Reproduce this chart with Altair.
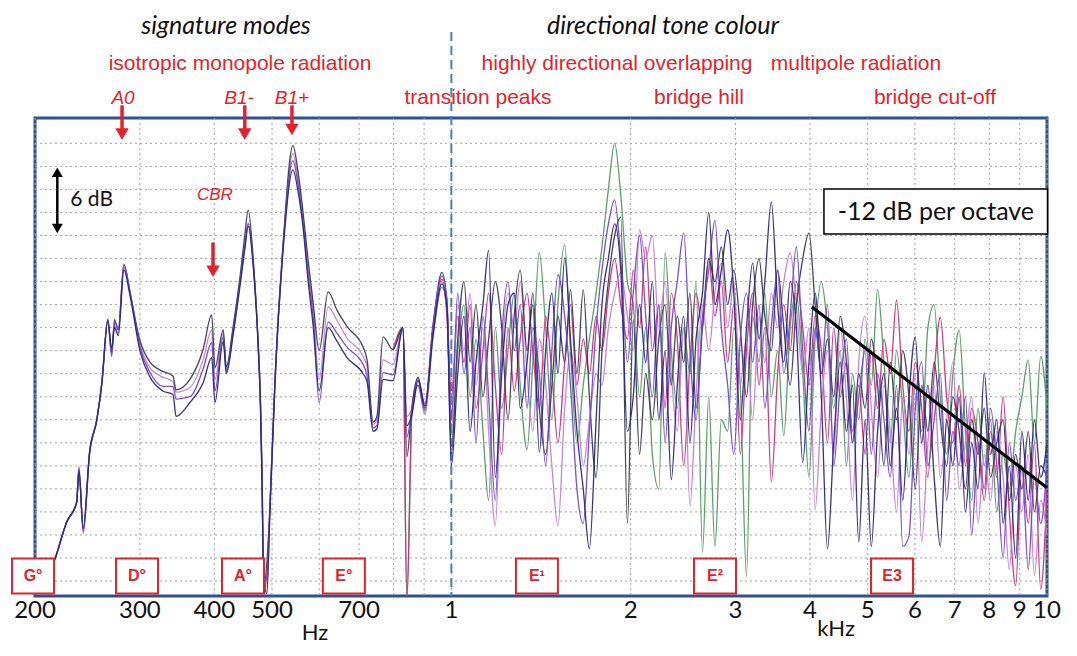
import altair as alt
import pandas as pd

# ---------------- data ----------------
SERIES = ["E", "F", "B", "A", "C", "D"]
SERIES_COLORS = ["#4f9d5d", "#cc2f7a", "#c47fd4", "#3a3a52", "#7447c9", "#28287e"]

# low-frequency part (Hz) - signature modes
LF_FREQ = [204, 216, 226, 235, 237, 241, 247, 254, 259, 265,
           269, 272, 276, 282, 289, 300, 312, 328, 341, 345,
           364, 383, 396, 401, 414, 419, 430, 442, 450, 456,
           465, 474, 478, 481, 484, 490, 496, 506, 522, 542,
           553, 564, 575, 586, 600, 621, 643, 668, 711, 722,
           739, 750, 768, 798, 829, 842, 859, 879, 903, 931,
           964, 983]
LF_A = [1.0, 3.9, 7.1, 8.8, 11.5, 6.5, 13.2, 16.0, 19.2, 24.7,
        21.8, 24.7, 23.8, 29.5, 27.0, 22.9, 21.0, 20.2, 19.8, 18.6,
        19.5, 22.1, 25.1, 20.5, 23.8, 20.6, 24.0, 28.5, 32.0, 34.2,
        29.9, 22.7, 18.0, 11.7, 1.5, 3.5, 8.5, 19.7, 31.4, 39.8,
        37.5, 33.9, 29.8, 26.2, 22.0, 27.1, 25.5, 24.1, 22.3, 21.2,
        15.8, 16.3, 23.2, 22.1, 24.0, 12.8, 17.2, 19.7, 17.0, 23.8,
        28.8, 26.2]
LF_B = [1.0, 3.9, 7.1, 8.9, 12.0, 6.1, 13.2, 16.0, 19.2, 24.5,
        22.0, 24.2, 23.5, 29.2, 26.8, 22.6, 20.5, 19.7, 19.3, 18.4,
        18.8, 21.2, 23.8, 19.5, 23.5, 20.4, 23.8, 28.2, 31.2, 33.1,
        29.5, 22.5, 17.8, 11.5, 3.0, 1.0, 8.3, 19.5, 31.0, 39.1,
        36.8, 33.4, 29.0, 25.8, 19.5, 25.8, 24.6, 23.1, 21.5, 20.6,
        15.6, 16.0, 21.2, 20.8, 24.0, 16.3, 17.0, 19.5, 16.5, 23.5,
        28.0, 25.5]
LF_C = [1.0, 3.9, 7.1, 8.8, 11.8, 6.3, 13.0, 16.0, 19.2, 24.7,
        21.5, 24.5, 23.9, 29.4, 27.0, 22.3, 20.1, 18.9, 18.9, 17.8,
        18.0, 20.4, 22.7, 18.5, 23.2, 20.2, 23.5, 28.0, 31.0, 33.0,
        29.6, 22.4, 17.5, 11.0, 1.2, 2.5, 8.6, 19.8, 31.2, 38.5,
        36.4, 33.0, 28.5, 25.0, 17.5, 24.5, 23.5, 22.3, 20.8, 19.8,
        15.3, 15.5, 20.1, 19.9, 23.8, 14.5, 16.8, 19.0, 16.8, 24.0,
        28.5, 26.5]
LF_D = [1.0, 3.9, 7.1, 8.9, 11.6, 6.6, 13.2, 16.0, 19.2, 24.6,
        22.2, 24.0, 23.3, 29.0, 26.7, 22.0, 19.7, 18.5, 18.2, 16.3,
        17.5, 19.2, 21.4, 17.5, 22.8, 20.0, 23.3, 27.7, 30.8, 32.8,
        29.3, 22.2, 17.3, 10.5, 2.5, 0.9, 8.0, 19.4, 30.8, 37.7,
        35.8, 32.6, 28.0, 24.2, 18.5, 24.0, 22.8, 21.4, 20.0, 19.3,
        15.0, 15.2, 19.5, 19.4, 24.0, 15.5, 16.5, 19.4, 17.2, 23.2,
        27.8, 25.8]
LF_TAIL_FREQ = [798, 829, 842, 859, 879, 903, 931, 964, 983]
LF_E = [22.1, 24.0, 0.3, 16.8, 19.0, 16.5, 23.0, 27.5, 26.0]
LF_F = [22.0, 23.9, 0.3, 17.0, 19.6, 17.4, 24.2, 28.2, 25.0]

# high-frequency part (Hz) - directional tone colour
HF_FREQ = [1000, 1025, 1050, 1075, 1100, 1130, 1155, 1185, 1215, 1245,
           1275, 1305, 1340, 1370, 1405, 1440, 1475, 1510, 1550, 1585,
           1625, 1665, 1705, 1750, 1790, 1835, 1880, 1925, 1975, 2020,
           2070, 2120, 2175, 2230, 2285, 2340, 2395, 2455, 2515, 2575,
           2640, 2705, 2770, 2840, 2910, 2980, 3055, 3130, 3205, 3285,
           3360, 3445, 3530, 3615, 3705, 3795, 3890, 3985, 4080, 4180,
           4280, 4385, 4495, 4605, 4715, 4830, 4950, 5070, 5195, 5325,
           5455, 5590, 5725, 5865, 6010, 6160, 6310, 6465, 6620, 6785,
           6950, 7120, 7295, 7475, 7660, 7845, 8040, 8235, 8440, 8645,
           8860, 9075, 9300, 9525, 9760, 10000]
HF_A = [13, 23, 28, 21, 26, 18, 23, 28, 24, 16,
        25, 29, 22, 27, 17, 13, 19, 25, 21, 27.3,
        20, 27.3, 18, 11, 22, 28, 32, 33.6, 7, 24.7,
        13, 20, 16, 23, 26, 19, 25, 21, 27, 17,
        24, 30, 28, 31, 26, 29, 24, 18, 26, 30,
        25, 22, 29, 24, 19, 26, 30, 32.2, 26, 20,
        23, 18, 25, 21, 14, 20, 17, 23, 19, 12,
        21, 16, 22, 18, 10, 19, 15, 21, 16, 12,
        18, 15, 10, 16, 13, 17, 11, 14, 16, 9,
        13, 10, 15, 8, 12, 11]
HF_B = [15, 26, 22, 27, 19, 24, 15, 6.8, 21, 27,
        24, 28, 20, 15, 23, 19, 12, 6.8, 17, 22,
        18, 12, 16, 20, 19, 24, 27, 28.8, 25, 22,
        32.5, 30, 32, 24, 28, 20, 15, 24, 8.5, 18,
        26, 22, 27, 29.6, 24, 28, 19, 23, 16, 25,
        21, 27, 24, 28, 30.5, 26, 20, 24, 8.2, 17,
        22, 13, 24, 18, 9, 21, 25, 17, 11, 19,
        15, 8, 18, 13, 20, 5.4, 14, 19, 11, 16,
        21, 10, 14, 18, 7, 13, 9, 15, 11, 3,
        12, 8, 13, 2.5, 9, 6]
HF_C = [16, 27, 20, 24, 14, 25, 18, 9, 23, 28,
        22, 26, 17, 24, 20, 12, 22, 28.6, 25, 19,
        10, 7, 15, 24, 29, 33, 35.1, 30, 21, 27,
        32, 25, 18, 26, 14, 24, 28, 32.2, 22, 16,
        25, 29, 33.3, 24, 19, 13, 23, 27, 21, 26,
        17, 24, 29, 20, 25, 31, 22, 15, 24, 20,
        26, 12, 19, 23, 14, 18, 22, 13, 20, 16,
        11, 19, 5, 5.9, 17, 21, 12, 16, 20, 9,
        15, 12, 18, 6, 14, 10, 17, 12, 4, 14,
        9, 12, 3, 11, 7, 12]
HF_D = [12, 20, 25, 15, 21, 26, 30.7, 11, 20, 26,
        27, 17, 21, 26, 13.2, 22, 27, 20, 30.1, 23,
        15, 10, 4.8, 16, 26, 30, 33, 29, 15, 18,
        26, 21, 28, 16, 22, 10.8, 19, 25, 14, 23,
        27, 34, 26, 29, 32.5, 27, 16, 24, 29.6, 23,
        28, 34.9, 26, 21, 28, 24, 12.3, 21, 27, 18,
        4.8, 14, 21, 15, 19, 5.4, 16, 5, 15, 20,
        12, 17, 9, 18, 23.2, 14, 19, 11, 5, 16,
        12, 18, 8, 14, 10, 20.1, 13, 16, 7, 12,
        4, 15, 9, 16, 11, 14]
HF_E = [14, 22, 26, 18, 23, 15, 9, 24, 17, 22,
        27, 19, 13.4, 21, 30.5, 24, 16, 26, 31.2, 22,
        14, 19, 23, 27, 31, 36, 40, 35.5, 28, 26,
        18, 24, 13, 10, 30.5, 22, 17, 24, 20, 28,
        4.5, 18, 5, 16, 15, 24, 19, 2.4, 25, 21,
        27, 18, 22, 14.6, 24, 27, 20, 11, 23, 28,
        24, 17, 22, 12, 20, 16, 23, 19, 27.3, 21,
        14, 22, 17, 11, 19, 15, 24, 26, 18, 13,
        20, 23.8, 15, 9, 17, 12, 16, 8, 13, 10,
        15, 18, 21.2, 14, 21.5, 17]
HF_F = [18, 25, 21, 26, 17, 22, 27, 19, 13, 24,
        18.5, 23, 27, 22, 17, 25, 20, 14, 21, 26,
        19, 23, 20, 25, 22, 27, 30, 26, 23, 29,
        24, 31, 22, 26, 17, 27, 23, 12, 21, 27,
        24, 30, 25, 28, 21, 26, 13, 22, 27, 19,
        24, 10.6, 20, 26, 22, 28, 24, 19, 25, 22,
        14, 24, 18, 21, 15, 19, 13, 22, 17, 23,
        20, 26.4, 19, 15, 21, 17, 11, 20, 24.9, 18,
        14, 19, 12, 17, 14, 9, 15, 11, 18, 8,
        1.6, 12, 7, 14, 1.3, 10]

# axis / grid
GRID_FREQ = [200, 300, 400, 500, 600, 700, 800, 900,
             1000, 2000, 3000, 4000, 5000, 6000, 7000, 8000, 9000, 10000]
GRID_DB = list(range(2, 41, 2))
TICK_FREQ = [200, 300, 400, 500, 700, 1000, 2000, 3000, 4000, 5000, 6000, 7000, 8000, 9000, 10000]
TICK_TEXT = ["200", "300", "400", "500", "700", "1", "2", "3", "4", "5", "6", "7", "8", "9", "10"]

# annotations
NOTE_LABELS = ["G°", "D°", "A°", "E°", "E¹", "E²", "E3"]
NOTE_FREQ = [198.5, 296.7, 446.9, 660, 1392, 2771, 5493]
NOTE_LEVEL = 2.43

ARROW_FREQ = [280, 450, 540, 398]
ARROW_TOP = [43.3, 43.3, 43.3, 31.4]
ARROW_TIP = [40.3, 40.3, 40.7, 28.4]

SLOPE_FREQ = [4030, 10000]
SLOPE_DB = [25.8, 10.1]

# ---------------- build table ----------------
rows = []
series_parts = {
    "E": [(LF_TAIL_FREQ, LF_E), (HF_FREQ, HF_E)],
    "F": [(LF_TAIL_FREQ, LF_F), (HF_FREQ, HF_F)],
    "B": [(LF_FREQ, LF_B), (HF_FREQ, HF_B)],
    "A": [(LF_FREQ, LF_A), (HF_FREQ, HF_A)],
    "C": [(LF_FREQ, LF_C), (HF_FREQ, HF_C)],
    "D": [(LF_FREQ, LF_D), (HF_FREQ, HF_D)],
}
for s in SERIES:
    for fr, vals in series_parts[s]:
        for f, v in zip(fr, vals):
            rows.append({"series": s, "freq": f, "db": v})
df = pd.DataFrame(rows)

RED = "#e3232c"
GRID = "#a3a3a3"
xs = alt.Scale(type="log", domain=[200, 10000], nice=False)
ys = alt.Scale(domain=[0.7, 42.2], nice=False, zero=False)


def X(field):
    return alt.X(f"{field}:Q", scale=xs, axis=None)


def Y(field):
    return alt.Y(f"{field}:Q", scale=ys, axis=None)


vgrid = alt.Chart(pd.DataFrame({"freq": GRID_FREQ})).mark_rule(
    color=GRID, strokeWidth=1, strokeDash=[2, 3]).encode(x=X("freq"))
hgrid = alt.Chart(pd.DataFrame({"db": GRID_DB})).mark_rule(
    color=GRID, strokeWidth=1, strokeDash=[2, 3]).encode(y=Y("db"))

tick_labels = alt.Chart(pd.DataFrame({"freq": TICK_FREQ, "t": TICK_TEXT})).mark_text(
    font="Lato", fontSize=24, color="#111111", baseline="middle"
).encode(x=X("freq"), y=alt.value(493), text="t:N")

lines = alt.Chart(df).mark_line(strokeWidth=1.3, clip=True, opacity=0.95, interpolate="monotone").encode(
    x=X("freq"),
    y=Y("db"),
    color=alt.Color("series:N", scale=alt.Scale(domain=SERIES, range=SERIES_COLORS), legend=None),
    detail="series:N",
)

divider = alt.Chart(pd.DataFrame({"freq": [1000]})).mark_rule(
    color="#4a7ebb", strokeWidth=2, strokeDash=[9, 5]
).encode(x=X("freq"), y=alt.value(-86), y2=alt.value(478))

notes_df = pd.DataFrame({"label": NOTE_LABELS, "freq": NOTE_FREQ, "db": [NOTE_LEVEL] * len(NOTE_FREQ)})
note_boxes = alt.Chart(notes_df).mark_point(
    shape="M-1.2,-1L1.2,-1L1.2,1L-1.2,1Z", size=1225, filled=True, fill="white",
    stroke=RED, strokeWidth=2, opacity=1
).encode(x=X("freq"), y=Y("db"))
note_text = alt.Chart(notes_df).mark_text(
    font="Liberation Sans", fontWeight="bold", fontSize=16, color=RED, baseline="middle"
).encode(x=X("freq"), y=Y("db"), text="label:N")

arr_df = pd.DataFrame({"freq": ARROW_FREQ, "top": ARROW_TOP, "tip": ARROW_TIP})
arr_df["shaft_end"] = arr_df["tip"] + 0.7
arr_df["head"] = arr_df["tip"] + 0.5
arrow_shaft = alt.Chart(arr_df).mark_rule(color=RED, strokeWidth=3.5).encode(
    x=X("freq"), y=Y("top"), y2="shaft_end:Q")
arrow_head = alt.Chart(arr_df).mark_point(
    shape="triangle-down", size=180, filled=True, color=RED, opacity=1
).encode(x=X("freq"), y=Y("head"))

# 6 dB scale arrow
scale_df = pd.DataFrame({"freq": [218], "lo": [32.1], "hi": [38.0]})
scale_df["lo_in"] = scale_df["lo"] + 0.5
scale_df["hi_in"] = scale_df["hi"] - 0.5
scale_shaft = alt.Chart(scale_df).mark_rule(color="black", strokeWidth=2.5).encode(
    x=X("freq"), y=Y("lo_in"), y2="hi_in:Q")
scale_up = alt.Chart(scale_df).mark_point(shape="triangle-up", size=120, filled=True,
                                          color="black", opacity=1).encode(x=X("freq"), y=Y("hi_in"))
scale_dn = alt.Chart(scale_df).mark_point(shape="triangle-down", size=120, filled=True,
                                          color="black", opacity=1).encode(x=X("freq"), y=Y("lo_in"))
scale_txt = alt.Chart(pd.DataFrame({"freq": [249], "db": [35.1], "t": ["6 dB"]})).mark_text(
    font="Lato", fontSize=21, color="#111111").encode(x=X("freq"), y=Y("db"), text="t:N")

cbr_txt = alt.Chart(pd.DataFrame({"freq": [401], "db": [35.5], "t": ["CBR"]})).mark_text(
    font="Liberation Sans", fontStyle="italic", fontSize=17, color=RED).encode(
    x=X("freq"), y=Y("db"), text="t:N")

# -12 dB per octave box and line
oct_box = alt.Chart(pd.DataFrame({"x1": [4222], "x2": [10020], "y1": [32.13], "y2": [36.03]})).mark_rect(
    fill="white", stroke="black", strokeWidth=1.5
).encode(x=X("x1"), x2="x2:Q", y=Y("y1"), y2="y2:Q")
oct_txt = alt.Chart(pd.DataFrame({"freq": [6510], "db": [34.05], "t": ["-12 dB per octave"]})).mark_text(
    font="Lato", fontSize=25, color="#111111").encode(x=X("freq"), y=Y("db"), text="t:N")
slope = alt.Chart(pd.DataFrame({"freq": SLOPE_FREQ, "db": SLOPE_DB})).mark_line(
    color="black", strokeWidth=3.2).encode(x=X("freq"), y=Y("db"))


def label(txt, px, py, **style):
    return alt.Chart(pd.DataFrame({"t": [txt]})).mark_text(baseline="middle", **style).encode(
        x=alt.value(px), y=alt.value(py), text="t:N")


red_style = dict(font="Liberation Sans", fontSize=21, color=RED)
red_it = dict(font="Liberation Sans", fontSize=19, fontStyle="italic", color=RED)
head_style = dict(font="Lato", fontSize=25, fontStyle="italic", color="#111111")
unit_style = dict(font="Lato", fontSize=22, color="#111111")

texts = [
    label("signature modes", 191, -92, **head_style),
    label("directional tone colour", 628, -92, **head_style),
    label("isotropic monopole radiation", 205, -54, **red_style),
    label("highly directional overlapping", 582, -54, **red_style),
    label("multipole radiation", 821, -54, **red_style),
    label("A0", 88, -20, **red_it),
    label("B1-", 204, -20, **red_it),
    label("B1+", 257, -20, **red_it),
    label("transition peaks", 443, -20, **red_style),
    label("bridge hill", 664, -20, **red_style),
    label("bridge cut-off", 900, -20, **red_style),
    label("Hz", 280, 515, **unit_style),
    label("kHz", 801, 511, **unit_style),
]

chart = alt.layer(
    vgrid, hgrid, divider, lines, slope, oct_box, oct_txt,
    note_boxes, note_text, arrow_shaft, arrow_head,
    scale_shaft, scale_up, scale_dn, scale_txt, cbr_txt, tick_labels, *texts
).properties(
    width=1012, height=478,
    padding={"left": 27, "top": 110, "right": 22, "bottom": 52},
    autosize=alt.AutoSizeParams(type="none"),
    background="white",
).configure_view(stroke="#2f528f", strokeWidth=3)

chart.save("out.html", embed_options={"renderer": "svg", "actions": False})
